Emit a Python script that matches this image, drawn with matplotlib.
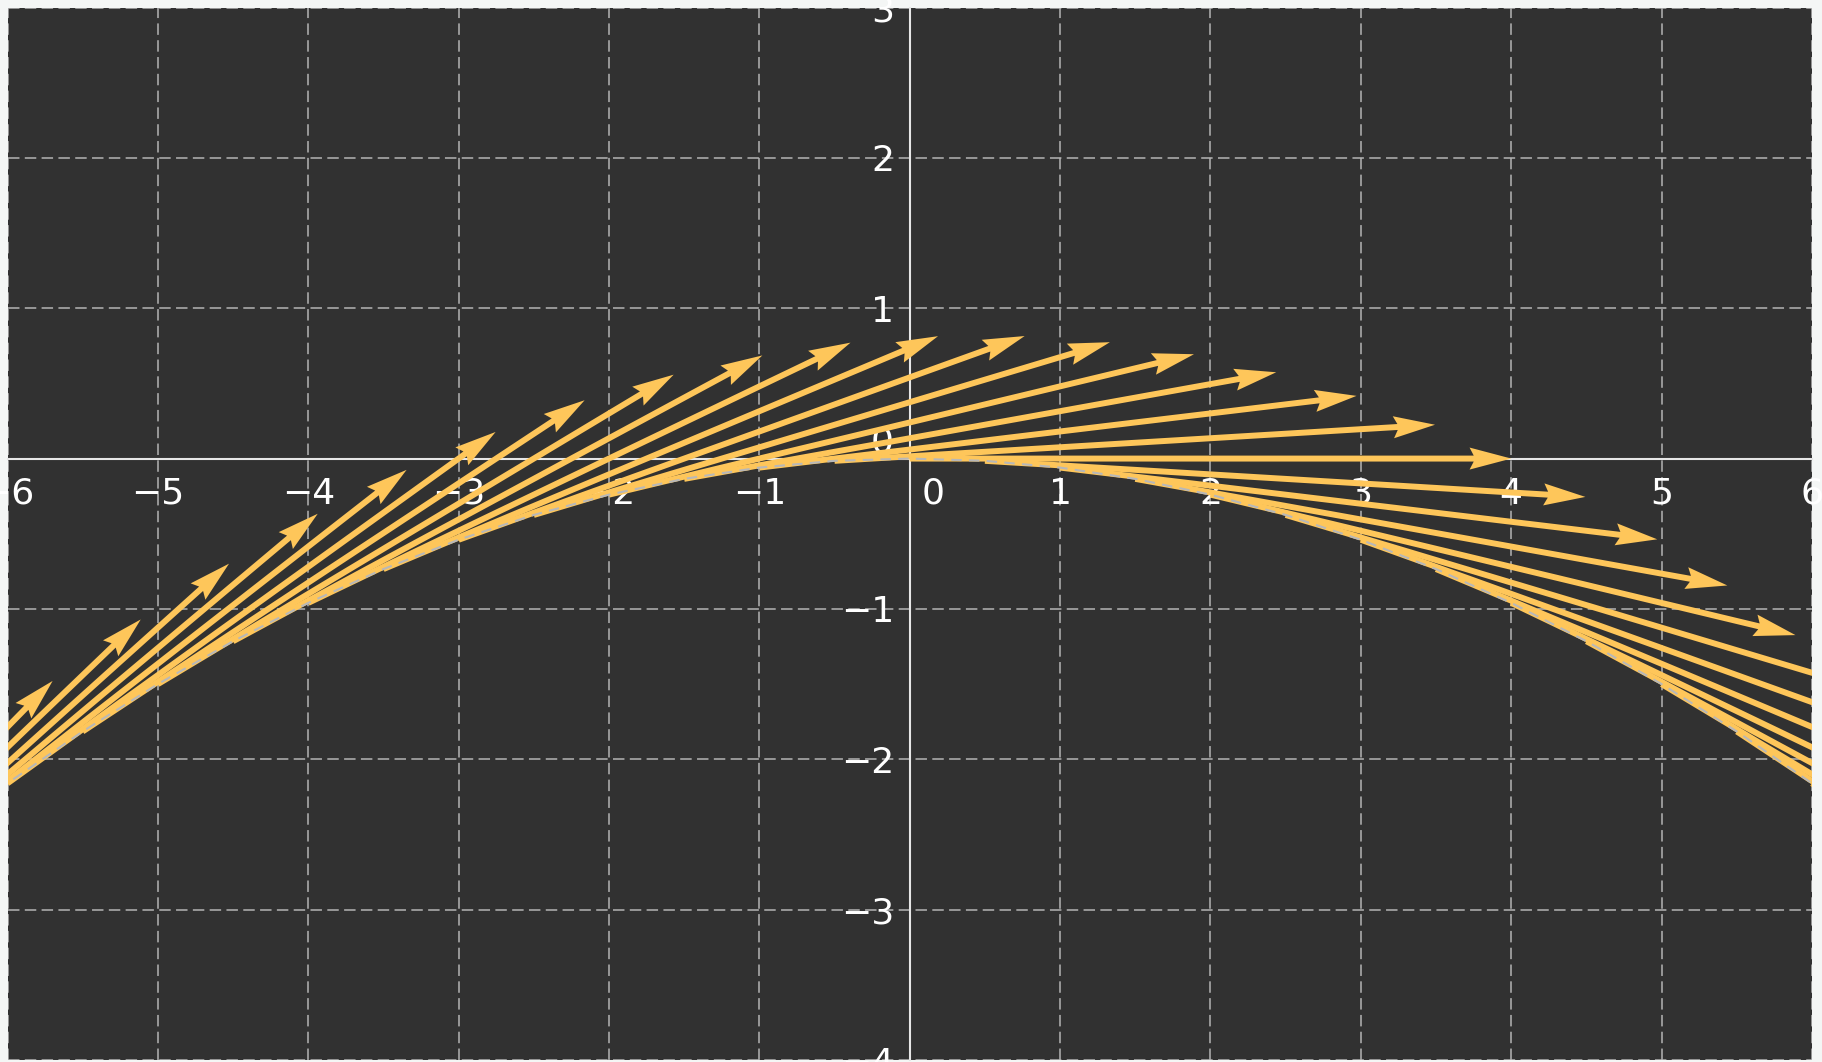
import matplotlib.pyplot as plt
import numpy as np

# points along the path (x, y) and the direction vector drawn at each one
x_pts = [-8.5, -8.0, -7.5, -7.0, -6.5, -6.0, -5.5, -5.0, -4.5, -4.0,
         -3.5, -3.0, -2.5, -2.0, -1.5, -1.0, -0.5, 0.0, 0.5, 1.0,
         1.5, 2.0, 2.5, 3.0, 3.5, 4.0, 4.5, 5.0, 5.5, 6.0]
y_pts = [-4.335, -3.84, -3.375, -2.94, -2.535, -2.16, -1.815, -1.5, -1.215, -0.96,
         -0.735, -0.54, -0.375, -0.24, -0.135, -0.06, -0.015, 0.0, -0.015, -0.06,
         -0.135, -0.24, -0.375, -0.54, -0.735, -0.96, -1.215, -1.5, -1.815, -2.16]
u_vec = [2.800, 2.886, 2.973, 3.063, 3.154, 3.246, 3.338, 3.430, 3.520, 3.606,
         3.688, 3.764, 3.831, 3.890, 3.937, 3.971, 3.993, 4.000, 3.993, 3.971,
         3.937, 3.890, 3.831, 3.764, 3.688, 3.606, 3.520, 3.430, 3.338, 3.246]
v_vec = [2.856, 2.770, 2.676, 2.573, 2.460, 2.337, 2.203, 2.058, 1.901, 1.731,
         1.549, 1.355, 1.149, 0.934, 0.709, 0.477, 0.240, 0.000, -0.240, -0.477,
         -0.709, -0.934, -1.149, -1.355, -1.549, -1.731, -1.901, -2.058, -2.203, -2.337]

x_ticks = [-6, -5, -4, -3, -2, -1, 1, 2, 3, 4, 5, 6]
y_ticks = [-4, -3, -2, -1, 1, 2, 3]

fig = plt.figure(figsize=(18.22, 10.62), dpi=100, facecolor='#f4f6f5')
ax = fig.add_axes([7.5/1822, 2/1062, 1804.5/1822, 1052.5/1062])
ax.set_facecolor('#313131')
ax.set_xlim(-6, 6)
ax.set_ylim(-4, 3)

# axes through the origin
for side in ['top', 'right']:
	ax.spines[side].set_visible(False)
for side in ['left', 'bottom']:
	ax.spines[side].set_position(('data', 0))
	ax.spines[side].set_color('#e6e6e6')
	ax.spines[side].set_linewidth(1.5)
	ax.spines[side].set_zorder(2)

ax.set_xticks(x_ticks)
ax.set_yticks(y_ticks)
# zero gets a grid line on both axes but its own labels
ax.set_xticks([0], minor=True)
ax.set_yticks([0], minor=True)
ax.tick_params(axis='both', which='both', length=0, labelsize=26, labelcolor='white')
ax.tick_params(axis='both', which='minor', labelbottom=False, labelleft=False)
ax.tick_params(axis='x', pad=13)
ax.tick_params(axis='y', pad=11)
ax.grid(True, which='both', color='#b4b4b4', linewidth=1.1, linestyle=(0, (7.5, 3.5)), zorder=0)
ax.set_axisbelow(True)

# zero labels sit a little off the origin
ax.text(0.155, -0.12, '0', color='white', fontsize=26, ha='center', va='top', zorder=2.5)
ax.text(-0.11, 0.11, '0', color='white', fontsize=26, ha='right', va='center', zorder=2.5)

# tangent arrows
ax.quiver(x_pts, y_pts, u_vec, v_vec, angles='xy', scale_units='xy', scale=1,
	color='#fec65a', width=0.0033, headwidth=3.7, headlength=7, headaxislength=6.3,
	zorder=3)

# the path itself, dashed on top
ax.plot(x_pts, y_pts, color='#b8b8b8', linewidth=1.5, linestyle=(0, (5, 3.5)), zorder=4)

plt.savefig('out.png', dpi=100, facecolor=fig.get_facecolor())
